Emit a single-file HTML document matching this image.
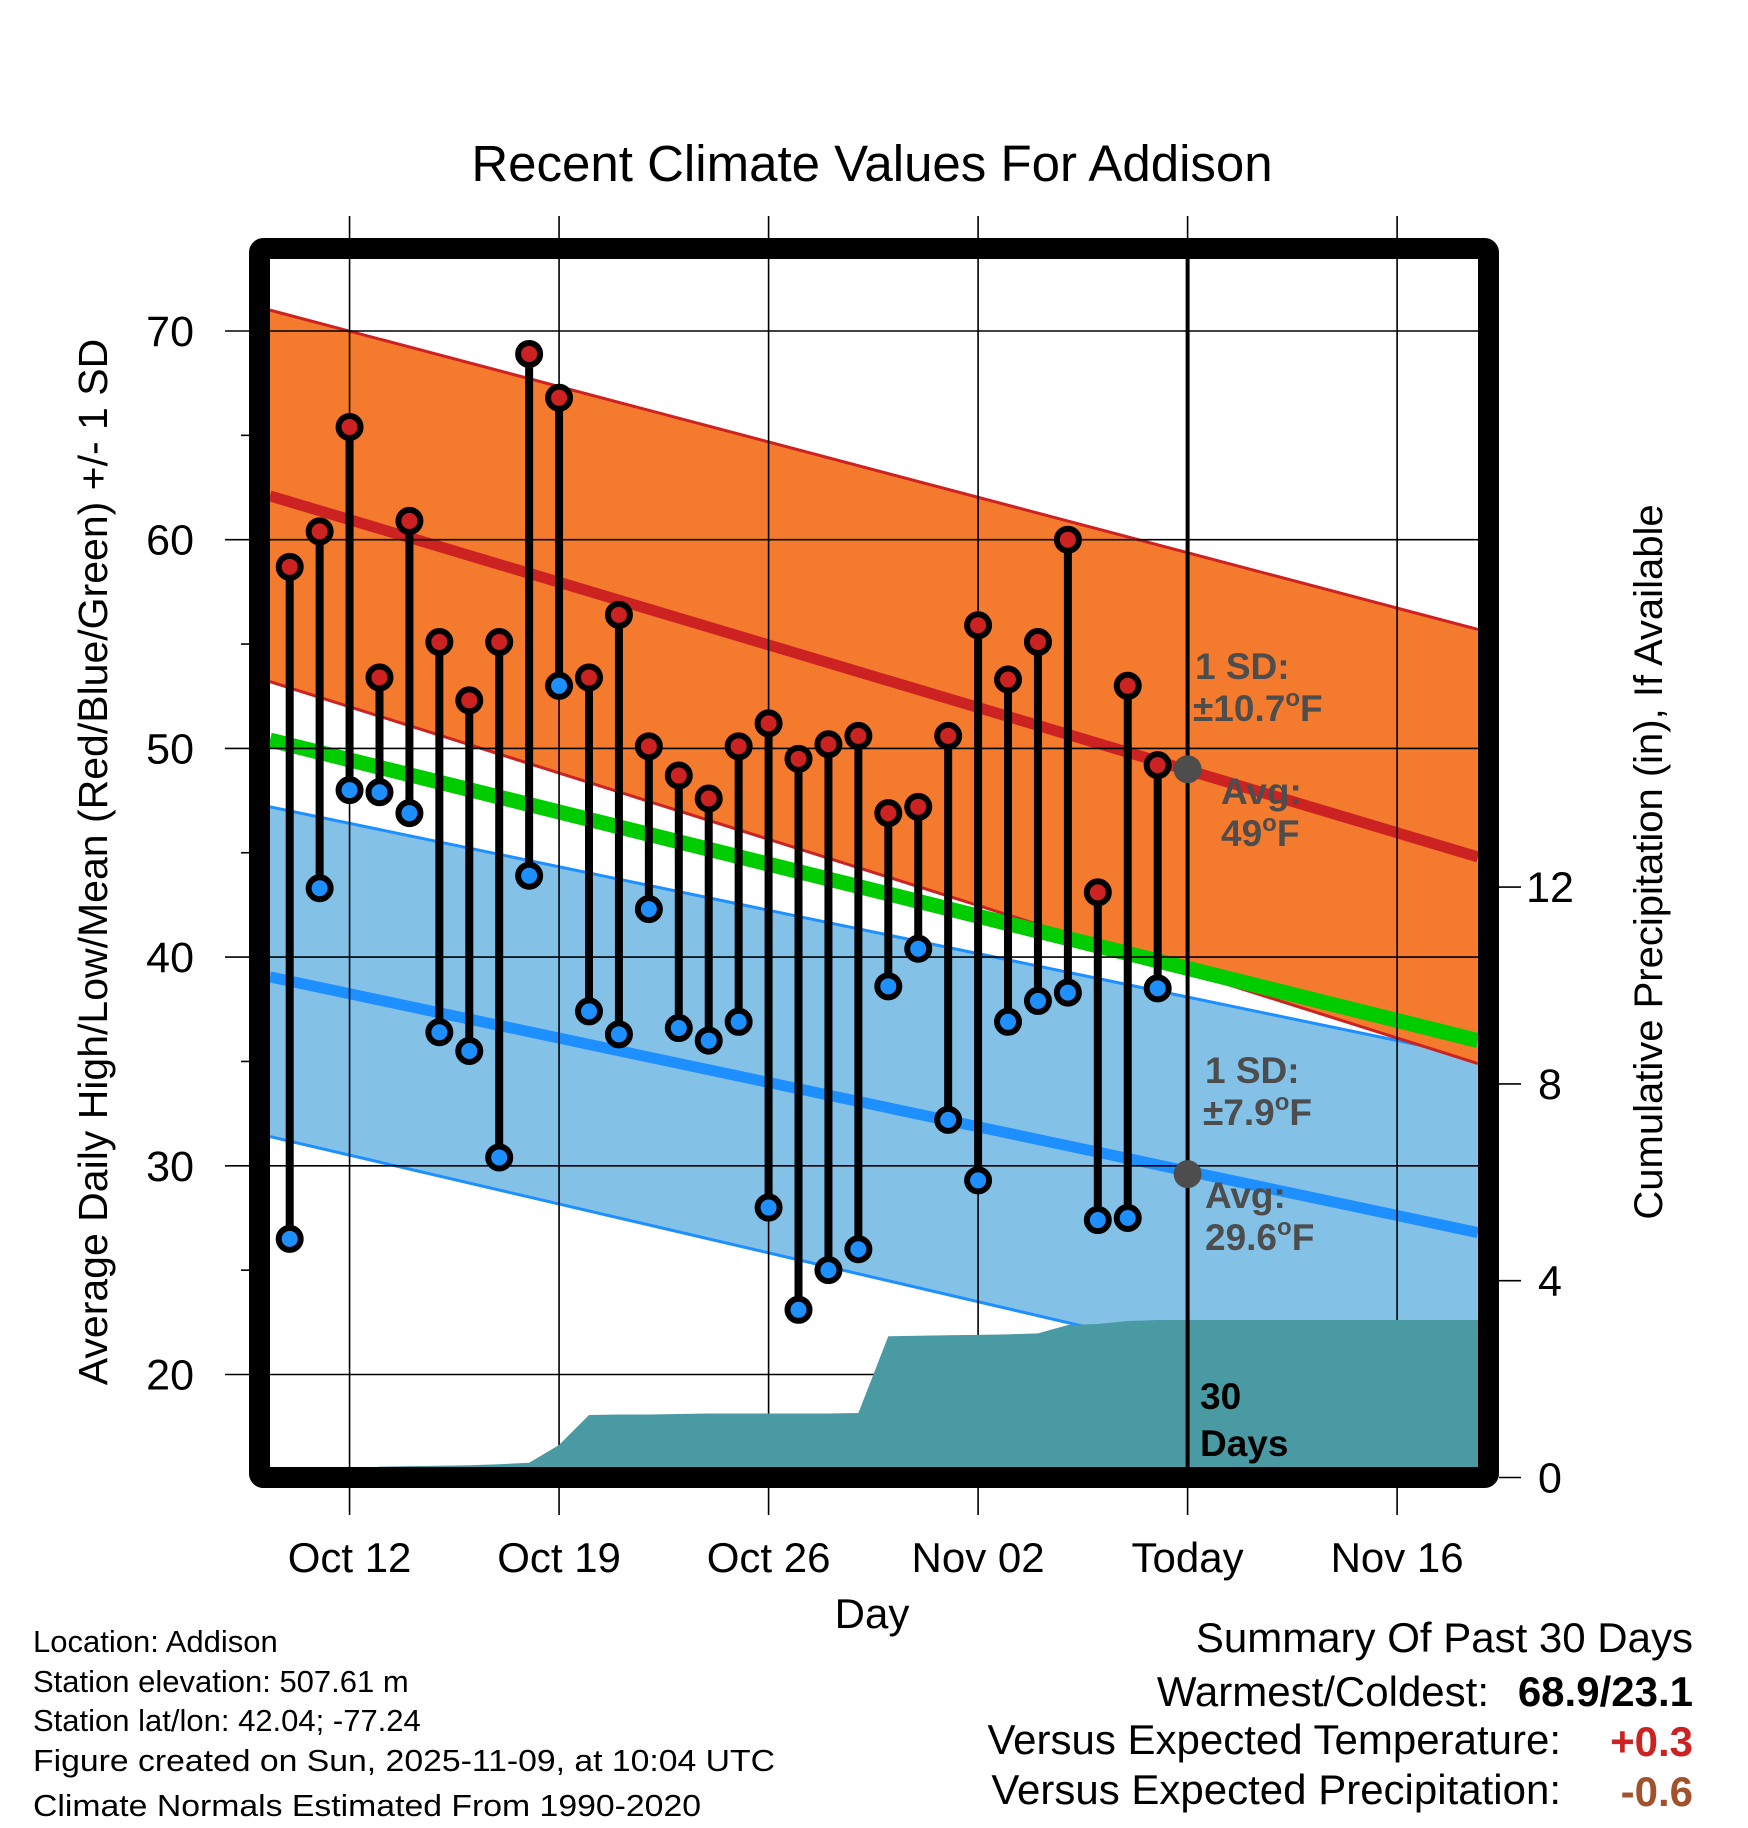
<!DOCTYPE html>
<html><head><meta charset="utf-8"><style>
html,body{margin:0;padding:0;background:#fff;}
svg{display:block;font-family:"Liberation Sans",Arial,sans-serif;}
</style></head><body>
<svg id="chart" width="1748" height="1828" viewBox="0 0 1748 1828">
<defs><clipPath id="plotClip"><rect x="270" y="259" width="1208" height="1209"/></clipPath></defs>
<g id="fills" clip-path="url(#plotClip)"></g>
<g id="grid"></g>
<g id="precip" clip-path="url(#plotClip)"></g>
<g id="marks"></g>
<g id="axes"></g>
<text x="872" y="181" font-size="51" text-anchor="middle">Recent Climate Values For Addison</text>
<text x="872" y="1628" font-size="42" text-anchor="middle">Day</text>
<text transform="translate(107,862) rotate(-90)" font-size="41" text-anchor="middle">Average Daily High/Low/Mean (Red/Blue/Green) +/- 1 SD</text>
<text transform="translate(1662,862) rotate(-90)" font-size="40" text-anchor="middle">Cumulative Precipitation (in), If Available</text>
<g font-size="31">
<text x="33" y="1652">Location: Addison</text>
<text x="33" y="1692">Station elevation: 507.61 m</text>
<text x="33" y="1731">Station lat/lon: 42.04; -77.24</text>
<text x="33" y="1771" textLength="742" lengthAdjust="spacingAndGlyphs">Figure created on Sun, 2025-11-09, at 10:04 UTC</text>
<text x="33" y="1816" textLength="668" lengthAdjust="spacingAndGlyphs">Climate Normals Estimated From 1990-2020</text>
</g>
<g font-size="42">
<text x="1693" y="1652" text-anchor="end">Summary Of Past 30 Days</text>
<text x="1489" y="1706" text-anchor="end">Warmest/Coldest:</text>
<text x="1693" y="1706" text-anchor="end" font-weight="bold">68.9/23.1</text>
<text x="1561" y="1754" text-anchor="end">Versus Expected Temperature:</text>
<text x="1693" y="1756" text-anchor="end" font-weight="bold" fill="#cc2222">+0.3</text>
<text x="1561" y="1804" text-anchor="end">Versus Expected Precipitation:</text>
<text x="1693" y="1806" text-anchor="end" font-weight="bold" fill="#a0522d">-0.6</text>
</g>
</svg>
<script>
// ---- data ----
const dayLabels = ["Oct 12","Oct 19","Oct 26","Nov 02","Today","Nov 16"];
const dayLabelIdx = [2,9,16,23,30,37];
const highs = [58.7,60.4,65.4,53.4,60.9,55.1,52.3,55.1,68.9,66.8,53.4,56.4,50.1,48.7,47.6,50.1,51.2,49.5,50.2,50.6,46.9,47.2,50.6,55.9,53.3,55.1,60.0,43.1,53.0,49.2];
const lows = [26.5,43.3,48.0,47.9,46.9,36.4,35.5,30.4,43.9,53.0,37.4,36.3,42.3,36.6,36.0,36.9,28.0,23.1,25.0,26.0,38.6,40.4,32.2,29.3,36.9,37.9,38.3,27.4,27.5,38.5];
const precipCum = [0,0,0.1,0.22,0.23,0.24,0.25,0.27,0.3,0.66,1.27,1.28,1.28,1.29,1.3,1.3,1.3,1.3,1.3,1.31,2.87,2.88,2.89,2.9,2.91,2.93,3.1,3.12,3.18,3.2];
const normDays = [-0.66,39.7];
const highMean = [62.1,44.8];
const highUpper = [71.0,55.7];
const highLower = [53.2,34.9];
const lowMean = [39.05,26.8];
const lowUpper = [47.2,35.2];
const lowLower = [31.4,17.9];
const meanNorm = [50.4,36.0];
const yTicks = [20,30,40,50,60,70];
const y2Ticks = [0,4,8,12];

// ---- axes ----
const X0=270,X1=1478,Y0=259,Y1=1468;
function x(d){return 289.7+29.93*d;}
function y(t){return 331+(70-t)*20.87;}
function y2(p){return 1477.5-p*49.2;}
const NS="http://www.w3.org/2000/svg";
function mk(parent,tag,attrs){const e=document.createElementNS(NS,tag);for(const k in attrs)e.setAttribute(k,attrs[k]);document.getElementById(parent).appendChild(e);return e;}
function band(up,lo,fill,name){
  const pts=[[x(normDays[0]),y(up[0])],[x(normDays[1]),y(up[1])],[x(normDays[1]),y(lo[1])],[x(normDays[0]),y(lo[0])]];
  const e=mk('fills','polygon',{points:pts.map(p=>p.join(',')).join(' '),fill:fill});
  
  
}
function nline(vals,color,w,name){
  const e=mk('fills','line',{x1:x(normDays[0]),y1:y(vals[0]),x2:x(normDays[1]),y2:y(vals[1]),stroke:color,'stroke-width':w});
  
  
}
band(lowUpper,lowLower,'#83c1e7','low-sd-band');
nline(lowUpper,'#1e8fff',3,'low-sd-upper');
nline(lowLower,'#1e8fff',3,'low-sd-lower');
band(highUpper,highLower,'#f47a2e','high-sd-band');
nline(highUpper,'#cc2222',3,'high-sd-upper');
nline(highLower,'#cc2222',3,'high-sd-lower');
nline(meanNorm,'#00cc00',15,'mean-normal-line');
nline(highMean,'#cc2222',11,'high-normal-line');
nline(lowMean,'#1e8fff',11,'low-normal-line');

// grid
yTicks.forEach(t=>{
  const e=mk('grid','line',{x1:X0,x2:X1,y1:y(t),y2:y(t),stroke:'#000','stroke-width':1.6});
  
  
});
dayLabelIdx.forEach(d=>{
  const e=mk('grid','line',{x1:x(d),x2:x(d),y1:216,y2:1515,stroke:'#000','stroke-width':1.6});
  
  
});

// precip
(function(){
  const pts=[[x(0),y2(0)]];
  precipCum.forEach((p,i)=>pts.push([x(i),y2(p)]));
  pts.push([X1+5,y2(precipCum[precipCum.length-1])]);
  pts.push([X1+5,y2(0)]);
  const e=mk('precip','polygon',{points:pts.map(p=>p.join(',')).join(' '),fill:'#4a9aa3'});
  
  
})();

// stems and points
highs.forEach((h,i)=>{
  const s=mk('marks','line',{x1:x(i),x2:x(i),y1:y(h),y2:y(lows[i]),stroke:'#000','stroke-width':8});
  
  
});
highs.forEach((h,i)=>{
  const c=mk('marks','circle',{cx:x(i),cy:y(h),r:11,fill:'#cc2222',stroke:'#000','stroke-width':6});
  
  
  const c2=mk('marks','circle',{cx:x(i),cy:y(lows[i]),r:11,fill:'#1e8fff',stroke:'#000','stroke-width':6});
  
  
});

// today line and annotations
(function(){
  const tx=x(30);
  const l=mk('marks','line',{x1:tx,x2:tx,y1:Y0,y2:Y1,stroke:'#000','stroke-width':4});
  
  
  const a=mk('marks','circle',{cx:tx,cy:y(49),r:14,fill:'#4d4d4d'});
  
  
  const b=mk('marks','circle',{cx:tx,cy:y(29.6),r:14,fill:'#4d4d4d'});
  
  
  const g=document.getElementById('marks');
  g.insertAdjacentHTML('beforeend',
   '<g font-weight="bold" font-size="37" fill="#4d4d4d">'+
   '<text x="1195" y="679">1 SD:</text><text x="1193" y="721">±10.7<tspan font-size="24" dy="-15">o</tspan><tspan dy="15">F</tspan></text>'+
   '<text x="1221" y="804">Avg:</text><text x="1221" y="846">49<tspan font-size="24" dy="-15">o</tspan><tspan dy="15">F</tspan></text>'+
   '<text x="1205" y="1083">1 SD:</text><text x="1203" y="1125">±7.9<tspan font-size="24" dy="-15">o</tspan><tspan dy="15">F</tspan></text>'+
   '<text x="1205" y="1208">Avg:</text><text x="1205" y="1250">29.6<tspan font-size="24" dy="-15">o</tspan><tspan dy="15">F</tspan></text>'+
   '<text x="1200" y="1409" fill="#000">30</text><text x="1200" y="1456" fill="#000">Days</text></g>');
})();

// frame + ticks
(function(){
  const f=mk('axes','rect',{x:259.5,y:248.5,width:1229,height:1229,fill:'none',stroke:'#000','stroke-width':21,rx:4});
  
  
  for(let t=20;t<=70;t+=5){
    const major=t%10===0;
    const e=mk('axes','line',{x1:major?225:241,x2:249,y1:y(t),y2:y(t),stroke:'#000','stroke-width':1.6});
    
    
  }
  yTicks.forEach(t=>{
    const e=mk('axes','text',{x:194,y:y(t)+15,'font-size':43,'text-anchor':'end'});
    e.textContent=t;
    
    
  });
  y2Ticks.forEach(p=>{
    const e=mk('axes','line',{x1:1499,x2:1521,y1:y2(p),y2:y2(p),stroke:'#000','stroke-width':1.6});
    
    
    const t=mk('axes','text',{x:1550,y:y2(p)+15,'font-size':43,'text-anchor':'middle'});
    t.textContent=p;
    
    
  });
  dayLabels.forEach((lab,i)=>{
    const t=mk('axes','text',{x:x(dayLabelIdx[i]),y:1572,'font-size':42,'text-anchor':'middle'});
    t.textContent=lab;
    
    
  });
})();
</script>
</body></html>
